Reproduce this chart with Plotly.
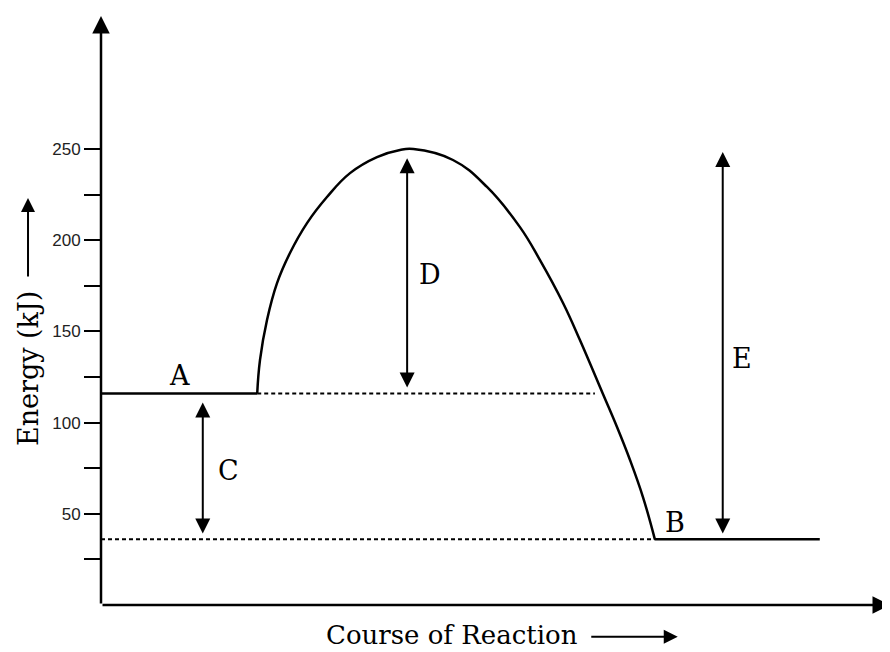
import plotly.graph_objects as go

# --- data ---
level_a = 116          # reactants energy (kJ)
level_b = 36           # products energy (kJ)

a_x = [0, 19.8]
b_x = [70.2, 91.1]
hump_x = [19.8, 20.15, 21.04, 22.31, 23.95, 26.11, 28.64, 31.56, 34.98, 37.9, 39.6,
          44.61, 48.92, 53.1, 55.64, 58.56, 60.7, 63.62, 65.4, 67.05, 68.69, 70.2]
hump_y = [116, 134.3, 156.3, 176.5, 193.0, 209.4, 223.7, 236.8, 245.6, 249.5, 250,
          244.0, 229.2, 207.2, 189.1, 165.6, 145.3, 115.7, 97.6, 79.5, 59.2, 36]

dot_a_x = [19.8, 62.6]
dot_b_x = [0, 70.2]

tick_vals = [25, 50, 75, 100, 125, 150, 175, 200, 225, 250]
tick_text = ["", "50", "", "100", "", "150", "", "200", "", "250"]

# vertical double arrows: (x, y_top, y_bottom)
arrow_c = (12.9, 111, 38.4)
arrow_d = (38.8, 245, 118.4)
arrow_e = (78.8, 248.4, 38.4)
labels = [("A", 10.0, 126), ("B", 72.7, 45.5), ("C", 16.1, 74), ("D", 41.7, 181), ("E", 81.2, 135.4)]

SERIF = "DejaVu Serif"
INK = "black"

fig = go.Figure()

line = dict(color=INK, width=2.5)
fig.add_trace(go.Scatter(x=a_x, y=[level_a, level_a], mode="lines", line=line, hoverinfo="skip"))
fig.add_trace(go.Scatter(x=b_x, y=[level_b, level_b], mode="lines", line=line, hoverinfo="skip"))
fig.add_trace(go.Scatter(x=hump_x, y=hump_y, mode="lines",
                         line=dict(color=INK, width=2.5, shape="spline", smoothing=1.2),
                         hoverinfo="skip"))

dots = dict(color=INK, width=2, dash="4px,3px")
fig.add_trace(go.Scatter(x=dot_a_x, y=[level_a, level_a], mode="lines", line=dots, hoverinfo="skip"))
fig.add_trace(go.Scatter(x=dot_b_x, y=[level_b, level_b], mode="lines", line=dots, hoverinfo="skip"))

for x, y_top, y_bot in (arrow_c, arrow_d, arrow_e):
    fig.add_annotation(
        x=x, y=y_top, ax=x, ay=y_bot, xref="x", yref="y", axref="x", ayref="y",
        text="", showarrow=True, arrowhead=2, startarrowhead=2, arrowsize=1.5,
        startarrowsize=1.5, arrowwidth=2, arrowcolor=INK, arrowside="end+start",
    )

for txt, lx, ly in labels:
    fig.add_annotation(x=lx, y=ly, text=txt, showarrow=False,
                       font=dict(family=SERIF, size=27, color=INK))

# axis lines with arrowheads
fig.add_annotation(x=0, y=323, ax=0, ay=0, xref="x", yref="y", axref="x", ayref="y",
                   text="", showarrow=True, arrowhead=2, arrowsize=1.4, arrowwidth=2.5,
                   arrowcolor=INK)
fig.add_annotation(x=100, y=0, ax=0, ay=0, xref="x", yref="y", axref="x", ayref="y",
                   text="", showarrow=True, arrowhead=2, arrowsize=1.4, arrowwidth=2.5,
                   arrowcolor=INK)

# axis titles with their long arrows (paper coords)
fig.add_annotation(x=-0.0925, y=0.40, xref="paper", yref="paper", text="Energy (kJ)",
                   textangle=-90, showarrow=False, xanchor="center", yanchor="middle",
                   font=dict(family=SERIF, size=27, color=INK))
fig.add_annotation(x=-0.0925, y=0.69, ax=0, ay=80, xref="paper", yref="paper",
                   text="", showarrow=True, arrowhead=2, arrowsize=1.4, arrowwidth=2,
                   arrowcolor=INK)
fig.add_annotation(x=0.445, y=-0.051, xref="paper", yref="paper", text="Course of Reaction",
                   showarrow=False, xanchor="center", yanchor="middle",
                   font=dict(family=SERIF, size=26, color=INK))
fig.add_annotation(x=0.731, y=-0.054, ax=-88, ay=0, xref="paper", yref="paper",
                   text="", showarrow=True, arrowhead=2, arrowsize=1.4, arrowwidth=2,
                   arrowcolor=INK)

# page body adds an 8px margin, so the margins below compensate for it
fig.update_layout(
    width=890, height=652,
    margin=dict(l=93, r=8, t=7, b=55),
    paper_bgcolor="white", plot_bgcolor="white",
    showlegend=False,
    xaxis=dict(range=[0, 100], showgrid=False, zeroline=False, showline=False,
               showticklabels=False, ticks=""),
    yaxis=dict(range=[0, 323.5], showgrid=False, zeroline=False, showline=False,
               tickvals=tick_vals, ticktext=tick_text, ticks="outside", ticklen=16,
               tickwidth=2, tickcolor=INK,
               tickfont=dict(family="Liberation Sans", size=17, color="#222")),
)

fig.write_html("out.html")
